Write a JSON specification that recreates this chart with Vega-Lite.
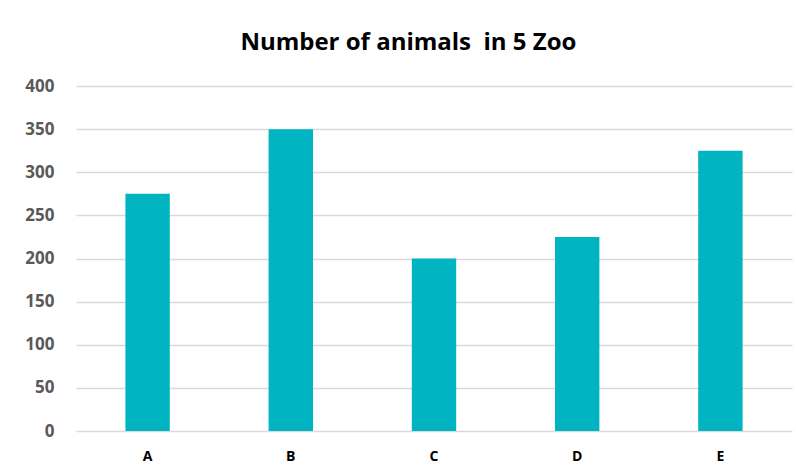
{
  "$schema": "https://vega.github.io/schema/vega-lite/v6.json",
  "autosize": "none",
  "width": 716,
  "height": 345,
  "padding": {"left": 76, "top": 86, "right": 4, "bottom": 42},
  "background": "white",
  "title": {
    "text": "Number of animals\u00a0 in 5 Zoo",
    "font": "Open Sans",
    "fontSize": 24,
    "fontWeight": "bold",
    "color": "#000000",
    "anchor": "middle",
    "frame": "bounds",
    "offset": 22
  },
  "data": {
    "values": [
      {"zoo": "A", "animals": 275},
      {"zoo": "B", "animals": 350},
      {"zoo": "C", "animals": 200},
      {"zoo": "D", "animals": 225},
      {"zoo": "E", "animals": 325}
    ]
  },
  "mark": {"type": "bar", "color": "#00B5C1"},
  "encoding": {
    "x": {
      "field": "zoo",
      "type": "nominal",
      "scale": {"paddingInner": 0.69, "paddingOuter": 0.345},
      "axis": {
        "title": null,
        "labelAngle": 0,
        "labelFont": "Open Sans",
        "labelFontSize": 14,
        "labelFontWeight": "bold",
        "labelColor": "#000000",
        "labelPadding": 18,
        "ticks": false,
        "domain": false
      }
    },
    "y": {
      "field": "animals",
      "type": "quantitative",
      "scale": {"domain": [0, 400]},
      "axis": {
        "title": null,
        "values": [0, 50, 100, 150, 200, 250, 300, 350, 400],
        "labelFont": "Open Sans",
        "labelFontSize": 17,
        "labelFontWeight": "bold",
        "labelColor": "#595959",
        "labelPadding": 22,
        "ticks": false,
        "domain": false,
        "grid": true,
        "gridColor": "#D9D9D9",
        "gridWidth": 1.3
      }
    }
  },
  "config": {"view": {"stroke": null}}
}
